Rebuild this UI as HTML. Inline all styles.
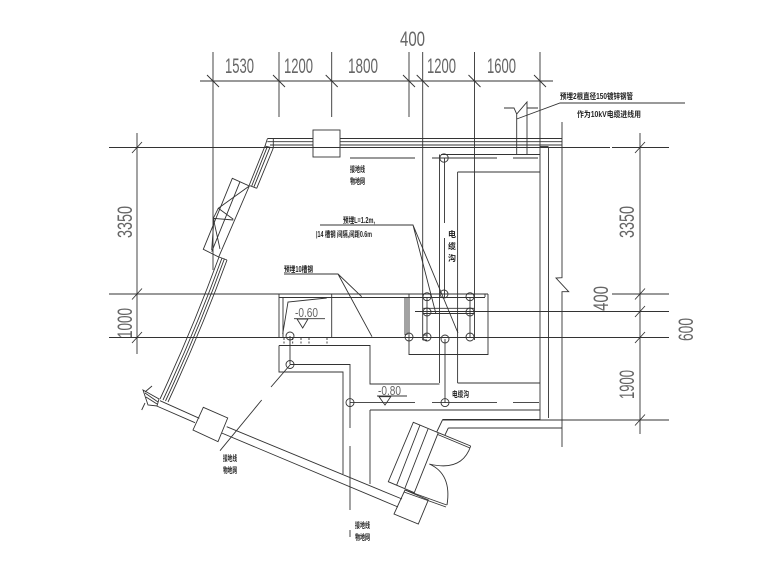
<!DOCTYPE html>
<html>
<head>
<meta charset="utf-8">
<style>
html,body{margin:0;padding:0;background:#fff}
svg{display:block}
.d{font-family:"Liberation Sans",sans-serif;font-size:21px;fill:#666}
.c{font-family:"Liberation Sans","Noto Sans CJK SC",sans-serif;font-size:8px;fill:#222;font-weight:bold}
</style>
</head>
<body>
<svg width="780" height="585" viewBox="0 0 780 585" xmlns="http://www.w3.org/2000/svg">
<rect width="780" height="585" fill="#fff"/>
<g fill="none" stroke="#333" stroke-width="0.9">
<!-- dimension lines -->
<path d="M200 81H553M109 147.500H610M612 147.500H669M109 294H488M612 294H669M415 311.500H669M109 337.500H669M443 420H669"/>
<path d="M213 52V270M279 52V117M331.700 52V117M409 52V117M422.700 52V340M474.500 52V340M540 52V420M137 133V354M640 133V434"/>
<path d="M207 75l12 12M273 75l12 12M325.700 75l12 12M403 75l12 12M416.700 75l12 12M468.500 75l12 12M534 75l12 12"/>
<path d="M132 153l10-11M132 299.500l10-11M132 343l10-11M635 153l10-11M635 299.500l10-11M635 317l10-11M635 343l10-11M635 425.500l10-11"/>
<!-- top wall -->
<path d="M267.300 138.500H313M267.300 141.700H313M270 145H313M340 138.500H562M340 141.700H562M340 145H562"/>
<rect x="313" y="130" width="27" height="27"/>
<path d="M267.300 139L265 146L273.300 148M273.300 139V148"/>
<path d="M265 146L249.300 185M267.300 146.700L251.700 186M270 147.300L254 186.700M273.300 148L256.700 188.300M249.300 185.500L256.700 188.300"/>
<!-- window -->
<path d="M232.300 178.300L249.300 186L218.700 257L203.300 249.300ZM240 181.700L211.700 251.700"/>
<path d="M249.300 186L218.300 208.300L233.300 219.300M218.300 208.300L213.300 218.300L233.300 220M213.300 218.300L220 249M214 218L211.700 250"/>
<!-- left wall -->
<path d="M219 257Q193 328 160 399M222 258Q196 329 163 400M224.500 258.500Q198.500 330 165.500 401M227 260Q201 331 168 402M219 257L227 260"/>
<!-- hatch -->
<path d="M143 390L159 399L157 406L148 405ZM145 393L158 402M146 397L157 404M152 386L145 392M145 403L141.700 410"/>
<!-- lower wall -->
<path d="M160 400.700L199.300 418.300M156.700 406L195 422.700M226.700 426.700L402 499M221.700 433L398 507"/>
<path d="M203.300 407.300L227.700 418L218 441.700L193 430Z"/>
<path d="M405 490L428.300 500L418.300 524L394 514Z"/>
<!-- right walls -->
<path d="M562 122V277.700L556 278L568.700 291.700H562V447M548.500 147.500V418M442.700 419.500H540M448.300 428H562M442.700 419.500L436.700 432M448.300 428L445 435"/>
<path d="M540 147H548.500" stroke-width="1.800"/>
<!-- pipe -->
<path d="M504 108H514L516.700 114L527 102V154M516.700 114V154M527 108H538"/>
<path d="M516.700 119L560 103H685"/>
<!-- trench top -->
<path d="M350 158H415M432 158H497M513 158H538M441 154.500H540M457.600 172H540M439.500 154.500V383M457.600 172V383M457.600 383H540M444.500 158V223M444.500 238V297"/>
<circle cx="444" cy="158" r="4.200"/>
<!-- room -->
<path d="M279 294V337.500M283 297.500V337.500M279 297.500H485M331.700 294V337.500"/>
<path d="M282.700 334L288 302L326.700 298"/>
<path d="M294 318.700H325M297 319H308L302.700 328Z"/>
<path d="M284 338V345M292.700 338V345M301 338V345M309 338V345M327 338V345" stroke-dasharray="2 1.500"/>
<!-- box -->
<path d="M409 294V354.500H488V294M405 297V335M407 297V335M485 294V297"/>
<path d="M422.700 308.300H474.500M422.700 313.500H474.500M422.700 335H427M422.700 340H427M427 297V338M470 297V338M445 339V402.600"/>
<circle cx="427" cy="296.700" r="4"/><circle cx="444" cy="294" r="4"/><circle cx="470" cy="296.700" r="4"/>
<circle cx="427" cy="312" r="4"/><circle cx="470" cy="312" r="4"/>
<circle cx="409" cy="337" r="4"/><circle cx="427" cy="337" r="4"/><circle cx="445" cy="339" r="4"/><circle cx="470" cy="337" r="4"/>
<!-- trench lower -->
<path d="M279 345.500H370V384H439.500M279 345.500V372H343V474M290 364.500H350V428M350 446V510M350 530V537M370 410H540M370 410V484"/>
<path d="M350 402.600H415M432 402.600H497M513 402.600H539"/>
<path d="M290 336V364.500"/>
<circle cx="290" cy="336" r="4"/><circle cx="290" cy="364.500" r="4"/><circle cx="350" cy="402.600" r="4"/><circle cx="445" cy="402.600" r="4"/>
<path d="M377 396H407M379 396.700H390.700L385 405Z"/>
<path d="M290 365L271 387M261.700 400L220 450.700"/>
<!-- leaders -->
<path d="M320 225H413L436 314M413 225L458 333"/>
<path d="M284 274H338L361.700 296.700M338 274L372 336.700"/>
<!-- stairs -->
<path d="M413.300 422.300L438.300 432.700L414.300 492.700L388.300 481.700ZM420 425L396.700 485M428 429L405 488"/>
<!-- doors -->
<path d="M438.300 432.700L470.700 446M437.700 434.500L470 448M405 490L446.700 505M404 492L446 507"/>
<path d="M470.700 446Q462 472 429.300 464Q452 474 447 505"/>
</g>
<!-- dimension text -->
<text class="d" x="400" y="46" textLength="25" lengthAdjust="spacingAndGlyphs">400</text>
<text class="d" x="225" y="73" textLength="29" lengthAdjust="spacingAndGlyphs">1530</text>
<text class="d" x="284" y="73" textLength="29" lengthAdjust="spacingAndGlyphs">1200</text>
<text class="d" x="348" y="73" textLength="30" lengthAdjust="spacingAndGlyphs">1800</text>
<text class="d" x="427" y="73" textLength="29" lengthAdjust="spacingAndGlyphs">1200</text>
<text class="d" x="487" y="73" textLength="29" lengthAdjust="spacingAndGlyphs">1600</text>
<text class="d" transform="translate(132,238) rotate(-90)" textLength="32" lengthAdjust="spacingAndGlyphs">3350</text>
<text class="d" transform="translate(132,338) rotate(-90)" textLength="30" lengthAdjust="spacingAndGlyphs">1000</text>
<text class="d" transform="translate(634,238) rotate(-90)" textLength="32" lengthAdjust="spacingAndGlyphs">3350</text>
<text class="d" transform="translate(608,311) rotate(-90)" textLength="25" lengthAdjust="spacingAndGlyphs">400</text>
<text class="d" transform="translate(693,341) rotate(-90)" textLength="23" lengthAdjust="spacingAndGlyphs">600</text>
<text class="d" transform="translate(634,399) rotate(-90)" textLength="29" lengthAdjust="spacingAndGlyphs">1900</text>
<text class="d" x="295" y="317" style="font-size:13px" textLength="23" lengthAdjust="spacingAndGlyphs">-0.60</text>
<text class="d" x="378" y="395" style="font-size:13px" textLength="23" lengthAdjust="spacingAndGlyphs">-0.80</text>
<!-- cjk labels -->
<text class="c" x="350" y="172" textLength="15" lengthAdjust="spacingAndGlyphs">接地线</text>
<text class="c" x="350" y="184" textLength="15" lengthAdjust="spacingAndGlyphs">物地网</text>
<text class="c" x="343" y="223" textLength="32" lengthAdjust="spacingAndGlyphs">预埋L=1.2m,</text>
<text class="c" x="316" y="237" textLength="56" lengthAdjust="spacingAndGlyphs">|14 槽钢 间隔,间距0.6m</text>
<text class="c" x="284" y="272" textLength="29" lengthAdjust="spacingAndGlyphs">预埋10槽钢</text>
<text class="c" x="560" y="99" textLength="73" lengthAdjust="spacingAndGlyphs">预埋2根直径150镀锌钢管</text>
<text class="c" x="577" y="117" textLength="64" lengthAdjust="spacingAndGlyphs">作为10kV电缆进线用</text>
<text class="c" x="448" y="237">电</text>
<text class="c" x="448" y="249">缆</text>
<text class="c" x="448" y="261">沟</text>
<text class="c" x="452" y="397" textLength="17" lengthAdjust="spacingAndGlyphs">电缆沟</text>
<text class="c" x="223" y="461" textLength="14" lengthAdjust="spacingAndGlyphs">接地线</text>
<text class="c" x="223" y="473" textLength="14" lengthAdjust="spacingAndGlyphs">物地网</text>
<text class="c" x="355" y="528" textLength="15" lengthAdjust="spacingAndGlyphs">接地线</text>
<text class="c" x="355" y="540" textLength="15" lengthAdjust="spacingAndGlyphs">物地网</text>
</svg>
</body>
</html>
